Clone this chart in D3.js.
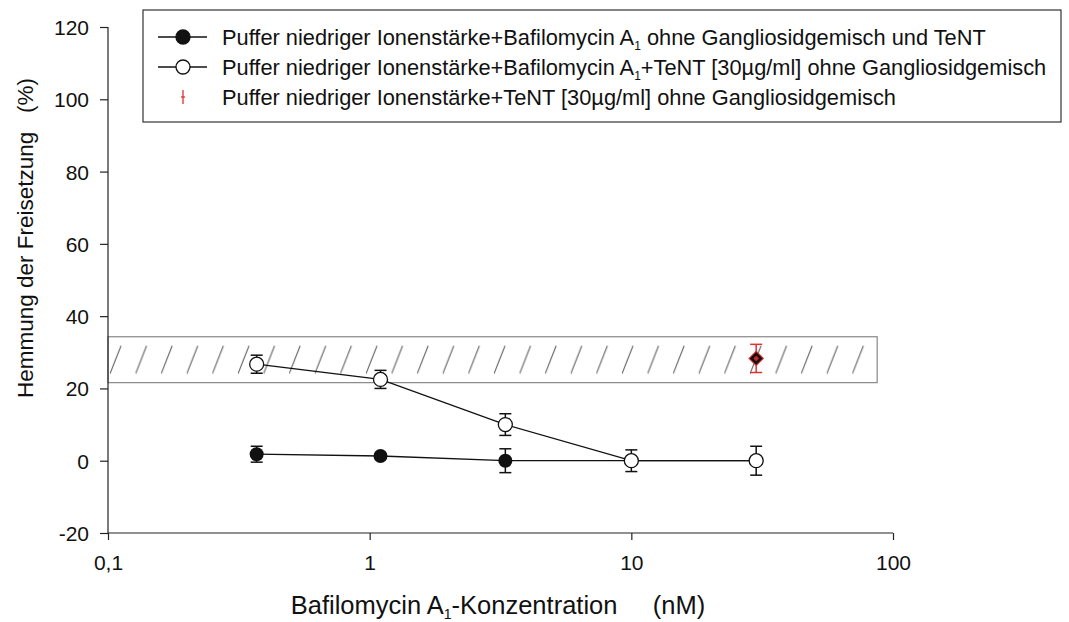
<!DOCTYPE html>
<html>
<head>
<meta charset="utf-8">
<script src="https://d3js.org/d3.v7.min.js"></script>
<style>
  body { margin: 0; background: #fff; }
  text { font-family: Arial, "Liberation Sans", sans-serif; fill: #111; }
</style>
</head>
<body>
<svg id="plot" width="1069" height="622"></svg>
<script>
// data
const conc = [0.37, 1.1, 3.3, 10, 30];               // Bafilomycin A1 (nM)
const ohneTeNT = [1.8, 1.3, 0, 0, 0];                 // filled circles
const ohneTeNTErr = [2.2, 0.5, 3.3, 0, 0];
const mitTeNT = [26.7, 22.5, 10, 0, 0];                // open circles
const mitTeNTErr = [2.5, 2.5, 3, 3, 4];
const tentConc = [30];                                 // red diamond
const tentVal = [28.3];
const tentErr = [3.9];
const band = {x0: 0.1, x1: 87, y0: 21.6, y1: 34.3};    // hatched range
const yTicks = [-20, 0, 20, 40, 60, 80, 100, 120];
const xTicks = [0.1, 1, 10, 100];
const xTickLabels = ["0,1", "1", "10", "100"];

const svg = d3.select('svg#plot');
const plotLeft = 108, plotRight = 893, plotTop = 27, plotBottom = 533;

const x = d3.scaleLog().domain([0.1, 100]).range([plotLeft, plotRight]);
const y = d3.scaleLinear().domain([-20, 120]).range([plotBottom, plotTop]);

// hatch pattern
const defs = svg.append('defs');
const pat = defs.append('pattern')
    .attr('id', 'hatch')
    .attr('patternUnits', 'userSpaceOnUse')
    .attr('width', 25.6).attr('height', y(band.y0) - y(band.y1))
    .attr('x', plotLeft + 2).attr('y', y(band.y1));
pat.append('line')
    .attr('x1', 0).attr('y1', 37).attr('x2', 11).attr('y2', 9)
    .attr('stroke', '#555').attr('stroke-width', 1);

// band
svg.append('rect')
    .attr('x', x(band.x0)).attr('y', y(band.y1))
    .attr('width', x(band.x1) - x(band.x0))
    .attr('height', y(band.y0) - y(band.y1))
    .attr('fill', 'url(#hatch)')
    .attr('stroke', '#888').attr('stroke-width', 1.2);

// axes
const yAxis = d3.axisLeft(y).tickValues(yTicks).tickSize(8).tickPadding(11)
    .tickFormat(d => String(d));
const gy = svg.append('g').attr('transform', `translate(${plotLeft},0)`).call(yAxis);
const xAxis = d3.axisBottom(x).tickValues(xTicks).tickSize(7).tickPadding(15)
    .tickFormat((d, i) => xTickLabels[i]);
const gx = svg.append('g').attr('transform', `translate(0,${plotBottom})`).call(xAxis);
[gx, gy].forEach(g => {
  g.select('.domain').attr('stroke', '#222').attr('stroke-width', 1.2);
  g.selectAll('.tick line').attr('stroke', '#222').attr('stroke-width', 1.2);
  g.selectAll('.tick text').attr('font-size', 21).attr('fill', '#111')
    .style('font-family', 'Arial, "Liberation Sans", sans-serif');
});
gy.select('.domain').attr('d', `M0,${plotBottom}V${plotTop}`);
gy.selectAll('.tick text').attr('dy', '0.36em');
gx.select('.domain').attr('d', `M${plotLeft},0H${plotRight}`);

// axis titles
const xt = svg.append('text').attr('x', 498).attr('y', 614)
    .attr('text-anchor', 'middle').attr('font-size', 25.5);
xt.append('tspan').text('Bafilomycin A');
xt.append('tspan').attr('font-size', 14).attr('dy', 5).text('1');
xt.append('tspan').attr('dy', -5).text('-Konzentration\u00a0\u00a0\u00a0\u00a0\u00a0(nM)');

svg.append('text')
    .attr('transform', 'translate(33,238) rotate(-90)')
    .attr('text-anchor', 'middle').attr('font-size', 22.5)
    .text('Hemmung der Freisetzung\u00a0\u00a0\u00a0(%)');

const line = d3.line().x(d => x(d[0])).y(d => y(d[1]));

function errBars(xs, vals, errs, color) {
  const g = svg.append('g').attr('stroke', color).attr('stroke-width', 1.5);
  xs.forEach((c, i) => {
    if (!errs[i]) return;
    const cx = x(c), y1 = y(vals[i] + errs[i]), y2 = y(vals[i] - errs[i]);
    g.append('line').attr('x1', cx).attr('x2', cx).attr('y1', y1).attr('y2', y2);
    g.append('line').attr('x1', cx - 6).attr('x2', cx + 6).attr('y1', y1).attr('y2', y1);
    g.append('line').attr('x1', cx - 6).attr('x2', cx + 6).attr('y1', y2).attr('y2', y2);
  });
}

// filled series
svg.append('path').datum(conc.map((c, i) => [c, ohneTeNT[i]]))
    .attr('d', line).attr('fill', 'none').attr('stroke', '#111').attr('stroke-width', 1.3);
errBars(conc, ohneTeNT, ohneTeNTErr, '#111');
svg.selectAll('circle.filled').data(conc).join('circle').attr('class', 'filled')
    .attr('cx', d => x(d)).attr('cy', (d, i) => y(ohneTeNT[i])).attr('r', 7)
    .attr('fill', '#111');

// open series
svg.append('path').datum(conc.map((c, i) => [c, mitTeNT[i]]))
    .attr('d', line).attr('fill', 'none').attr('stroke', '#111').attr('stroke-width', 1.3);
errBars(conc, mitTeNT, mitTeNTErr, '#111');
svg.selectAll('circle.open').data(conc).join('circle').attr('class', 'open')
    .attr('cx', d => x(d)).attr('cy', (d, i) => y(mitTeNT[i])).attr('r', 7)
    .attr('fill', '#fff').attr('stroke', '#111').attr('stroke-width', 1.3);

// TeNT only
errBars(tentConc, tentVal, tentErr, '#e03030');
const diamond = d3.symbol().type(d3.symbolDiamond2);
tentConc.forEach((c, i) => {
  svg.append('path').attr('d', diamond.size(120)())
      .attr('transform', `translate(${x(c)},${y(tentVal[i])})`)
      .attr('fill', '#e03030').attr('stroke', '#e03030').attr('stroke-width', 1.5);
  svg.append('path').attr('d', diamond.size(55)())
      .attr('transform', `translate(${x(c)},${y(tentVal[i])})`)
      .attr('fill', '#c62828').attr('stroke', '#111').attr('stroke-width', 2.5);
});

// legend
svg.append('rect').attr('x', 143).attr('y', 10).attr('width', 918).attr('height', 112)
    .attr('fill', '#fff').attr('stroke', '#333').attr('stroke-width', 1.2);
const legRows = [
  {y: 37, kind: 'filled', pre: 'Puffer niedriger Ionenstärke+Bafilomycin A', sub: '1', post: ' ohne Gangliosidgemisch und TeNT'},
  {y: 67, kind: 'open', pre: 'Puffer niedriger Ionenstärke+Bafilomycin A', sub: '1', post: '+TeNT [30µg/ml] ohne Gangliosidgemisch'},
  {y: 97, kind: 'tent', pre: 'Puffer niedriger Ionenstärke+TeNT [30µg/ml] ohne Gangliosidgemisch', sub: '', post: ''}
];
legRows.forEach(r => {
  if (r.kind !== 'tent') {
    svg.append('line').attr('x1', 158).attr('x2', 207).attr('y1', r.y).attr('y2', r.y)
        .attr('stroke', '#111').attr('stroke-width', 1.3);
    svg.append('circle').attr('cx', 183).attr('cy', r.y).attr('r', 7)
        .attr('fill', r.kind === 'filled' ? '#111' : '#fff')
        .attr('stroke', '#111').attr('stroke-width', 1.3);
  } else {
    const g = svg.append('g').attr('stroke', '#e03030').attr('stroke-width', 1.3);
    g.append('line').attr('x1', 183).attr('x2', 183).attr('y1', r.y - 7).attr('y2', r.y + 7);
    g.append('line').attr('x1', 181).attr('x2', 185).attr('y1', r.y).attr('y2', r.y);
  }
  const t = svg.append('text').attr('x', 222).attr('y', r.y + 7.5).attr('font-size', 21.8);
  t.append('tspan').text(r.pre);
  if (r.sub) {
    t.append('tspan').attr('font-size', 12).attr('dy', 5).text(r.sub);
    t.append('tspan').attr('dy', -5).text(r.post);
  }
});
</script>
</body>
</html>
